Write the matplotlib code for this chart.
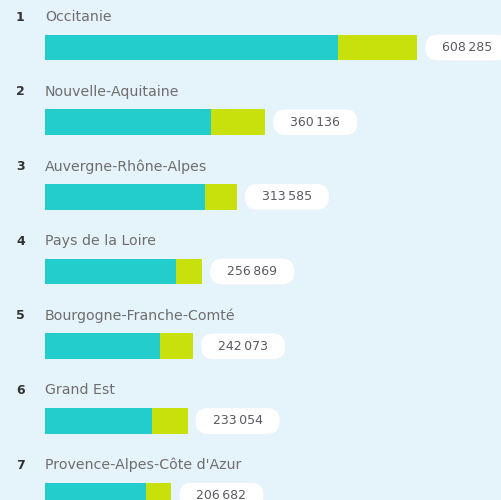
import numpy as np
import matplotlib.pyplot as plt
from matplotlib.patches import FancyBboxPatch

# regions ranked by total, split in two parts (cyan / lime)
ranks = [1, 2, 3, 4, 5, 6, 7]
regions = ['Occitanie', 'Nouvelle-Aquitaine', 'Auvergne-Rhône-Alpes', 'Pays de la Loire',
           'Bourgogne-Franche-Comté', 'Grand Est', "Provence-Alpes-Côte d'Azur"]
totals = [608285, 360136, 313585, 256869, 242073, 233054, 206682]
part_a = [479000, 272000, 262000, 213500, 187500, 175000, 164500]
part_b = [t - a for t, a in zip(totals, part_a)]

bg = '#e5f3fb'
cyan = '#22cdcc'
lime = '#c8e00b'

plt.rcParams['font.family'] = ['DejaVu Sans']

fig = plt.figure(figsize=(5.01, 5.00), dpi=100, facecolor=bg)
ax = fig.add_axes([0, 0, 1, 1])
ax.set_facecolor(bg)

upp = 1 / 0.000612        # value units per pixel (x)
ypx = 1 / 74.7            # row units per pixel (y)
ax.set_xlim(-45 * upp, (501 - 45) * upp)
ax.set_ylim(6.058, -0.636)
ax.axis('off')

y = np.arange(len(regions))
h = 0.345
ax.barh(y, part_a, height=h, color=cyan, linewidth=0)
ax.barh(y, part_b, left=part_a, height=h, color=lime, linewidth=0)

pill_w = 84 * upp
for i in range(len(regions)):
    ax.text(-29 * upp, y[i] - 0.408, str(ranks[i]), fontsize=9, fontweight='bold',
            color='#333333', va='center', ha='left')
    ax.text(0, y[i] - 0.408, regions[i], fontsize=10.2, color='#6e6e6e',
            va='center', ha='left')
    x0 = totals[i] + 8 * upp
    pill = FancyBboxPatch((x0, y[i] - h / 2), pill_w, h,
                          boxstyle=f'round,pad=0,rounding_size={12.5 * upp}',
                          mutation_aspect=ypx / upp, fc='white', ec='none')
    ax.add_patch(pill)
    label = f'{totals[i]:,}'.replace(',', '\u2009')
    ax.text(x0 + pill_w / 2, y[i], label, fontsize=9, color='#5a5a62',
            va='center', ha='center')

fig.savefig('out.png', dpi=100, facecolor=bg)
